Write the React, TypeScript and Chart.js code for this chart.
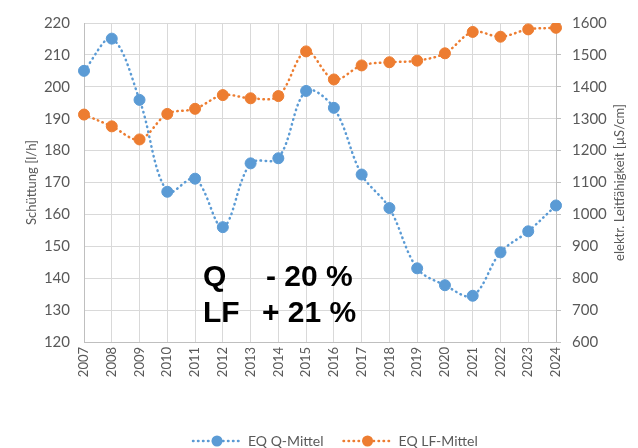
import React, { useEffect, useRef } from 'react';
import { Chart, registerables } from 'chart.js';

Chart.register(...registerables);

const years = ['2007', '2008', '2009', '2010', '2011', '2012', '2013', '2014', '2015', '2016', '2017', '2018', '2019', '2020', '2021', '2022', '2023', '2024'];
const qMittel = [205, 215.1, 195.9, 167.1, 171.2, 156, 176, 177.6, 198.7, 193.4, 172.5, 162, 143.1, 137.8, 134.5, 148.1, 154.7, 162.8];
const lfMittel = [1313, 1276, 1235, 1315, 1331, 1374, 1364, 1371, 1511, 1423, 1467, 1477, 1482, 1505, 1572, 1557, 1580, 1585];
const seriesLabels = ['EQ Q-Mittel', 'EQ LF-Mittel'];
const seriesColors = ['#5b9bd5', '#ed7d31'];
const leftTitle = 'Schüttung [l/h]';
const rightTitle = 'elektr. Leitfähigkeit [µS/cm]';
const noteQ = ['Q', '- 20 %'];
const noteLF = ['LF', '+ 21 %'];

const GRAY = '#595959';
const FONT = 'Lato, "Open Sans", sans-serif';

const overlayPlugin = {
  id: 'overlay',
  afterDraw(chart: any) {
    const ctx = chart.ctx as CanvasRenderingContext2D;
    const area = chart.chartArea;
    ctx.save();
    // right axis title (reads bottom to top)
    ctx.fillStyle = GRAY;
    ctx.font = `13px ${FONT}`;
    ctx.textAlign = 'center';
    ctx.textBaseline = 'middle';
    ctx.translate(620, (area.top + area.bottom) / 2);
    ctx.rotate(-Math.PI / 2);
    ctx.fillText(rightTitle, 0, 0);
    ctx.restore();

    // annotation
    ctx.save();
    ctx.fillStyle = '#000000';
    ctx.font = 'bold 30px "Liberation Sans", Arial, sans-serif';
    ctx.textAlign = 'left';
    ctx.textBaseline = 'alphabetic';
    ctx.fillText(noteQ[0], 203, 286);
    ctx.fillText(noteQ[1], 266, 286);
    ctx.fillText(noteLF[0], 203, 322);
    ctx.fillText(noteLF[1], 262, 322);
    ctx.restore();

    // legend
    ctx.save();
    ctx.font = `14px ${FONT}`;
    ctx.textBaseline = 'middle';
    ctx.textAlign = 'left';
    const y = 441;
    let x = 193;
    chart.data.datasets.forEach((ds: any) => {
      const color = ds.borderColor;
      ctx.strokeStyle = color;
      ctx.lineWidth = 2.5;
      ctx.lineCap = 'round';
      ctx.setLineDash([0.5, 4.5]);
      ctx.beginPath();
      ctx.moveTo(x, y);
      ctx.lineTo(x + 46, y);
      ctx.stroke();
      ctx.setLineDash([]);
      ctx.fillStyle = color;
      ctx.beginPath();
      ctx.arc(x + 24, y, 5.5, 0, Math.PI * 2);
      ctx.fill();
      ctx.fillStyle = GRAY;
      const tx = x + 55;
      ctx.fillText(ds.label, tx, y);
      x = tx + ctx.measureText(ds.label).width + 20;
    });
    ctx.restore();
  },
};

export default function App() {
  const ref = useRef<HTMLCanvasElement>(null);
  useEffect(() => {
    if (!ref.current) return;
    const mk = (label: string, data: number[], color: string, axis: string) => ({
      label,
      data,
      yAxisID: axis,
      borderColor: color,
      backgroundColor: color,
      borderWidth: 2.5,
      borderDash: [0.5, 4.5],
      borderCapStyle: 'round' as const,
      tension: 0.35,
      pointRadius: 5.5,
      pointBorderWidth: 1,
      pointBackgroundColor: color,
      pointBorderColor: color,
      fill: false,
    });
    const chart = new Chart(ref.current, {
      type: 'line',
      data: {
        labels: years,
        datasets: [
          mk(seriesLabels[0], qMittel, seriesColors[0], 'y'),
          mk(seriesLabels[1], lfMittel, seriesColors[1], 'y1'),
        ],
      },
      options: {
        animation: false,
        responsive: true,
        maintainAspectRatio: false,
        layout: { padding: { left: 20, right: 0, top: 17, bottom: 0 } },
        plugins: { legend: { display: false }, tooltip: { enabled: false } },
        scales: {
          x: {
            grid: { color: '#d9d9d9', drawTicks: false },
            border: { color: '#bfbfbf' },
            ticks: {
              minRotation: 90,
              maxRotation: 90,
              autoSkip: false,
              padding: 5,
              color: GRAY,
              font: { family: FONT, size: 13 },
            },
            afterFit: (s: any) => { s.height = 106; },
          },
          y: {
            position: 'left',
            min: 120,
            max: 220,
            ticks: { stepSize: 10, padding: 14, color: GRAY, font: { family: FONT, size: 15 }, callback: (v: any) => String(v) },
            grid: { color: '#d9d9d9', drawTicks: false },
            border: { color: '#bfbfbf' },
            title: { display: true, text: leftTitle, color: GRAY, font: { family: FONT, size: 13 }, padding: { top: 4, bottom: 4 } },
            afterFit: (s: any) => { s.width = 64; },
          },
          y1: {
            position: 'right',
            min: 600,
            max: 1600,
            ticks: { stepSize: 100, padding: 11, color: GRAY, font: { family: FONT, size: 15 }, callback: (v: any) => String(v) },
            grid: { drawOnChartArea: false, tickLength: 5, color: '#bfbfbf' },
            border: { color: '#bfbfbf' },
            afterFit: (s: any) => { s.width = 82; },
          },
        },
      },
      plugins: [overlayPlugin],
    });
    return () => chart.destroy();
  }, []);
  return (
    <div style={{ position: 'absolute', left: 0, top: 0, width: 638, height: 448, background: '#ffffff' }}>
      <canvas ref={ref} />
    </div>
  );
}
